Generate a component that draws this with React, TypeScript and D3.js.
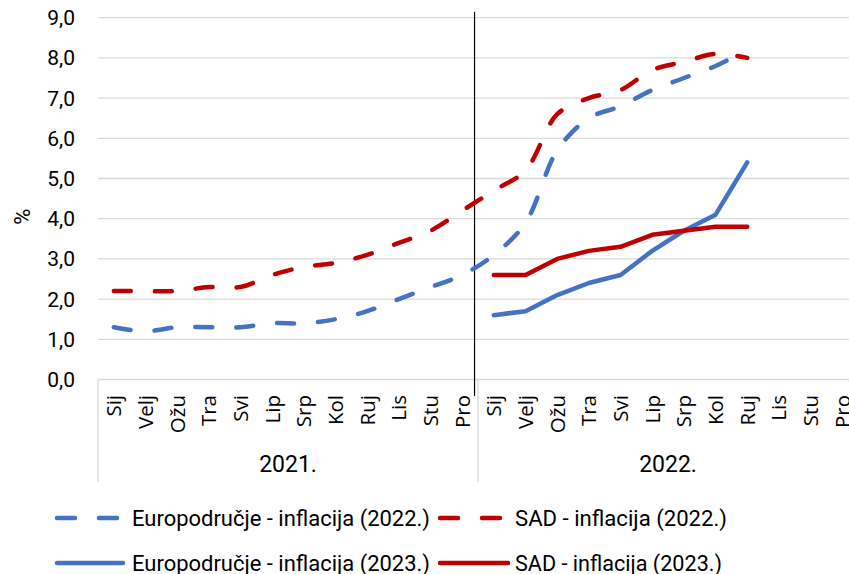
import React, { useEffect, useRef } from 'react'
import * as d3 from 'd3'

// mjeseci (2 godine)
const months = ['Sij', 'Velj', 'Ožu', 'Tra', 'Svi', 'Lip', 'Srp', 'Kol', 'Ruj', 'Lis', 'Stu', 'Pro']
const years = ['2021.', '2022.']
const yTicks = [0, 1, 2, 3, 4, 5, 6, 7, 8, 9]

// isprekidane linije: sij 2021 - ruj 2022
const euroDashed = [1.3, 1.2, 1.3, 1.3, 1.3, 1.4, 1.4, 1.5, 1.7, 2.0, 2.3, 2.6, 3.1, 3.9, 5.7, 6.5, 6.8, 7.2, 7.5, 7.8, 8.2]
const usDashed = [2.2, 2.2, 2.2, 2.3, 2.3, 2.6, 2.8, 2.9, 3.1, 3.4, 3.7, 4.2, 4.7, 5.2, 6.6, 7.0, 7.2, 7.7, 7.9, 8.1, 8.0]
// pune linije: sij 2022 - ruj 2022
const euroSolid = [1.6, 1.7, 2.1, 2.4, 2.6, 3.2, 3.7, 4.1, 5.4]
const usSolid = [2.6, 2.6, 3.0, 3.2, 3.3, 3.6, 3.7, 3.8, 3.8]

const legendLabels = [
  'Europodručje - inflacija (2022.)',
  'SAD - inflacija  (2022.)',
  'Europodručje - inflacija (2023.)',
  'SAD - inflacija (2023.)',
]

const BLUE = '#4472C4'
const RED = '#C00000'
const GRID = '#d9d9d9'
const NARROW = '"Liberation Sans Narrow", Roboto, sans-serif'

export default function App() {
  const ref = useRef<SVGSVGElement>(null)

  useEffect(() => {
    const svg = d3.select(ref.current)
    svg.selectAll('*').remove()

    const left = 98, top = 17.7, bottom = 379.5
    const band = 31.67
    const cats = years.flatMap(y => months.map(m => `${m} ${y}`))

    const x = d3.scaleBand()
      .domain(cats)
      .range([left, left + band * cats.length])
    const y = d3.scaleLinear().domain([0, 9]).range([bottom, top])
    const cx = (i: number) => x(cats[i])! + x.bandwidth() / 2

    // gridlines
    svg.append('g')
      .selectAll('line')
      .data(yTicks)
      .enter().append('line')
      .attr('x1', left).attr('x2', 849)
      .attr('y1', d => y(d)).attr('y2', d => y(d))
      .attr('stroke', GRID).attr('stroke-width', 1.3)

    // y labels
    svg.append('g')
      .selectAll('text')
      .data(yTicks)
      .enter().append('text')
      .attr('x', 75).attr('y', d => y(d))
      .attr('dy', '0.36em')
      .attr('text-anchor', 'end')
      .attr('font-family', NARROW)
      .attr('font-size', 21)
      .attr('fill', '#000')
      .text(d => d.toFixed(1).replace('.', ','))

    svg.append('text')
      .attr('transform', `translate(22,${(top + bottom) / 2 + 18}) rotate(-90)`)
      .attr('dy', '0.35em')
      .attr('text-anchor', 'middle')
      .attr('font-family', NARROW)
      .attr('font-size', 22)
      .text('%')

    // kategorije - separatori godina
    const seps = [0, 12, 24].map(i => left + band * i)
    svg.append('g')
      .selectAll('line')
      .data(seps)
      .enter().append('line')
      .attr('x1', d => d).attr('x2', d => d)
      .attr('y1', bottom).attr('y2', 482)
      .attr('stroke', GRID).attr('stroke-width', 1.3)

    svg.append('g')
      .selectAll('text')
      .data(cats)
      .enter().append('text')
      .attr('transform', (d, i) => `translate(${cx(i)},395) rotate(-90)`)
      .attr('dy', '0.36em')
      .attr('text-anchor', 'end')
      .attr('font-family', '"Open Sans", sans-serif')
      .attr('font-size', 20.5)
      .attr('fill', '#000')
      .text(d => d.split(' ')[0])

    svg.append('g')
      .selectAll('text')
      .data(years)
      .enter().append('text')
      .attr('x', (d, i) => (seps[i] + seps[i + 1]) / 2)
      .attr('y', 472)
      .attr('text-anchor', 'middle')
      .attr('font-family', NARROW)
      .attr('font-size', 23)
      .text(d => d)

    // vertikalna linija sij 2022
    svg.append('line')
      .attr('x1', seps[1] - 3.5).attr('x2', seps[1] - 3.5)
      .attr('y1', 11.7).attr('y2', 396)
      .attr('stroke', '#000').attr('stroke-width', 1.2)

    const smooth = d3.line<number>()
      .x((d, i) => cx(i))
      .y(d => y(d))
      .curve(d3.curveCatmullRom.alpha(0.5))
    const straight = d3.line<number>()
      .x((d, i) => cx(i + 12))
      .y(d => y(d))

    const series = [
      { data: euroDashed, color: BLUE, path: smooth, dash: true },
      { data: usDashed, color: RED, path: smooth, dash: true },
      { data: euroSolid, color: BLUE, path: straight, dash: false },
      { data: usSolid, color: RED, path: straight, dash: false },
    ]

    svg.append('g')
      .selectAll('path')
      .data(series)
      .enter().append('path')
      .attr('d', d => d.path(d.data))
      .attr('fill', 'none')
      .attr('stroke', d => d.color)
      .attr('stroke-width', 4.5)
      .attr('stroke-linecap', 'round')
      .attr('stroke-linejoin', 'round')
      .attr('stroke-dasharray', d => d.dash ? '17 24' : null)

    // legenda
    const legendPos = [
      { x: 55, y: 518 }, { x: 438, y: 518 },
      { x: 55, y: 563 }, { x: 438, y: 563 },
    ]
    const lg = svg.append('g')
    series.forEach((s, i) => {
      const p = legendPos[i]
      const w = i === 2 ? 70 : i === 3 ? 72 : 65
      lg.append('line')
        .attr('x1', p.x + 2).attr('x2', p.x + w - 2)
        .attr('y1', p.y).attr('y2', p.y)
        .attr('stroke', s.color).attr('stroke-width', 4.5)
        .attr('stroke-linecap', 'round')
        .attr('stroke-dasharray', s.dash ? '18 24' : null)
      lg.append('text')
        .attr('x', i % 2 === 0 ? 132 : 515)
        .attr('y', p.y + 7.5)
        .attr('font-family', NARROW)
        .attr('font-size', 22)
        .attr('textLength', [298, 212, 298, 207][i])
        .attr('lengthAdjust', 'spacingAndGlyphs')
        .text(legendLabels[i])
    })
  }, [])

  return (
    <svg
      ref={ref}
      width={849}
      height={574}
      style={{ position: 'fixed', left: 0, top: 0, background: '#fff' }}
    />
  )
}
